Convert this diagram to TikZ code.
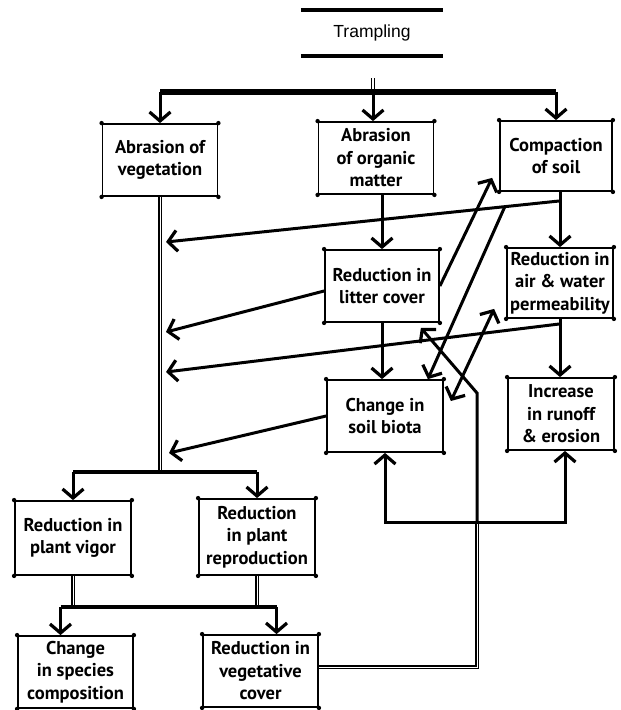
\documentclass[tikz,border=0pt]{standalone}
\usepackage{fontspec}
\setmainfont{PT Sans}
\newfontfamily\trampfont{Liberation Sans}
\usepackage{tikz}
\usetikzlibrary{arrows.meta}
\usetikzlibrary{calc}
\tikzset{
  % open barbed tips, as in the drawing
  >={Straight Barb[length=9pt,width=21pt,line width=3.2pt]},
  box/.style={draw, rectangle, line width=1.8pt, align=center, inner sep=1pt,
              minimum width=#1, minimum height=72pt, font=\bfseries\fontsize{18.5}{22.5}\selectfont},
  box/.default=115pt
}

\begin{document}
\begin{tikzpicture}[
    x=1pt, y=-1pt,
    arrow/.style={->, line width=3pt},
    twoway/.style={<->, line width=3pt},
    pipe/.style={line width=1.4pt, double, double distance=0.6pt},
    rule/.style={line width=4pt},
    bar/.style={line width=6.5pt},
    bar2/.style={line width=3.6pt}
]
\useasboundingbox (0,0) rectangle (621,710);

% Trampling
\node[font=\trampfont\fontsize{17.5}{20}\selectfont, minimum width=142pt, minimum height=46pt] (trampling) at (372,33) {Trampling};
\draw[rule] (trampling.north west) -- (trampling.north east);
\draw[rule] (trampling.south west) -- (trampling.south east);

% First row
\node[box] (veg) at (160,160) {Abrasion of\\vegetation};
\node[box] (org) at (376,158) {Abrasion\\of organic\\matter};
\node[box=112pt, minimum height=70pt] (comp) at (556,156) {Compaction\\of soil};

% Second row
\node[box=114pt] (litter) at (382,286) {Reduction in\\litter cover};
\node[box=106pt, minimum height=70pt] (perm) at (560,283) {Reduction in\\air \& water\\permeability};

% Third row
\node[box=116pt] (biota) at (385,416) {Change in\\soil biota};
\node[box=106pt] (runoff) at (561,414) {Increase\\in runoff\\\& erosion};

% Plant boxes
\node[box=116pt, minimum height=74pt] (vigor) at (73,538) {Reduction in\\plant vigor};
\node[box=116pt, minimum height=76pt] (repro) at (257,537) {Reduction\\in plant\\reproduction};
\node[box] (species) at (75.5,672) {Change\\in species\\composition};
\node[box] (vegcover) at (260.5,671) {Reduction in\\vegetative\\cover};

% corner dots
\foreach \n in {veg,org,comp,litter,perm,biota,runoff,vigor,repro,species,vegcover}
  \foreach \c in {north west,north east,south west,south east}
    \fill (\n.\c) circle (2.2pt);

% Trampling to first row
\coordinate (split) at (373,92);
\draw[pipe, double distance=2.4pt, line width=1.2pt] ([yshift=-22pt]trampling.south -| split) -- (split);
\draw[bar] (veg.north |- split) -- (comp.north |- split);
\draw[arrow] (veg.north |- split) -- (veg.north);
\draw[arrow] (split) -- (org.north -| split);
\draw[arrow] (comp.north |- split) -- (comp.north);

% Down the middle and right
\draw[arrow] (litter.north |- org.south) -- (litter.north);
\draw[arrow] (litter.south) -- (litter.south |- biota.north);
\draw[arrow] (perm.north |- comp.south) -- (perm.north);
\draw[arrow] (perm.south) -- (perm.south |- runoff.north);

% Main line
\coordinate (fork) at (160,472);
\draw[pipe] (veg.south) -- (fork);
\draw[bar2] (vigor.north |- fork) -- (repro.north |- fork);
\draw[arrow] (vigor.north |- fork) -- (vigor.north);
\draw[arrow] (repro.north |- fork) -- (repro.north);

% Arrows into main line
\coordinate (m1) at (166,242);
\coordinate (m2) at (166,332);
\coordinate (m3) at (166,372);
\coordinate (m4) at (169,453);
\coordinate (c1) at ($(perm.north |- comp.south)+(0,9)$);
\coordinate (p1) at ($(perm.south)+(0,5)$);
\draw[arrow] (c1) -- (m1);
\draw[arrow] ([yshift=-5pt]litter.west) -- (m2);
\draw[arrow] (p1) -- (m3);
\draw[arrow] (biota.west) -- (m4);

% Diagonals
\coordinate (c2) at ($(c1)!0.14!(m1)$);
\draw[arrow] (c2) -- ([xshift=-16pt]biota.north east);
\draw[arrow] (litter.east) -- ([xshift=-7pt,yshift=14pt]comp.south west);
\draw[twoway] ([xshift=7pt,yshift=15pt]biota.east) -- ([xshift=-12pt,yshift=10pt]perm.south west);

% Vegetative cover feedback
\coordinate (hub) at (477,522);
\draw[pipe] ([yshift=4pt]vegcover.east) -| (hub);
\draw[arrow] (hub) -- (hub |- 0,393) -- ([xshift=-19pt,yshift=-5pt]litter.south east);
\draw[arrow] (hub) -| (biota.south);
\draw[arrow] (hub) -| ([xshift=4pt]runoff.south);

% Lower fork
\coordinate (fork2) at (166,607);
\coordinate (s1) at ([xshift=-15pt]species.north);
\coordinate (s2) at ([xshift=16pt]vegcover.north);
\draw[pipe] (vigor.south) -- (vigor.south |- fork2);
\draw[pipe] (repro.south) -- (repro.south |- fork2);
\draw[bar2] (s1 |- fork2) -- (s2 |- fork2);
\draw[arrow] (s1 |- fork2) -- (s1);
\draw[arrow] (s2 |- fork2) -- (s2);

\end{tikzpicture}
\end{document}
